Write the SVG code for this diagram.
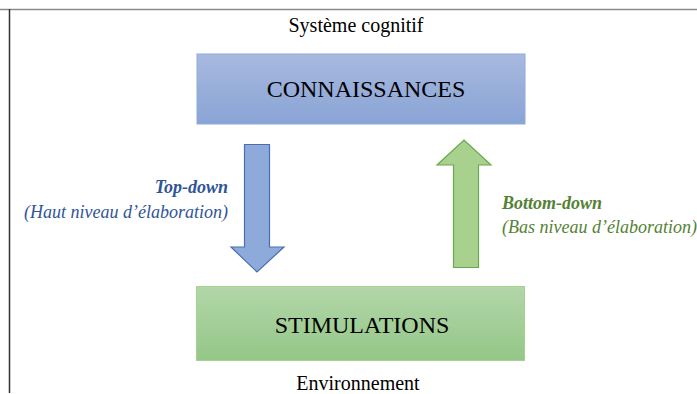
<svg xmlns="http://www.w3.org/2000/svg" width="697" height="394" viewBox="0 0 697 394">
<style>
.lbl{font-family:"Liberation Serif","Times New Roman",serif;fill:#000}
.big{font-size:24px}
.cap{font-size:20px}
.it{font-family:"Liberation Serif","Times New Roman",serif;font-style:italic;font-size:18px}
.b{font-weight:bold}
.blue{fill:#2f5597}
.green{fill:#548235}
</style>
<defs>
<linearGradient id="gBlue" x1="0" y1="0" x2="0" y2="1">
<stop offset="0" stop-color="#a8b9df"/>
<stop offset="1" stop-color="#89a4d5"/>
</linearGradient>
<linearGradient id="gGreen" x1="0" y1="0" x2="0" y2="1">
<stop offset="0" stop-color="#b2d6a9"/>
<stop offset="1" stop-color="#94c787"/>
</linearGradient>
</defs>
<rect width="697" height="394" fill="#fff"/>
<g id="frame">
<line x1="0" y1="9.5" x2="697" y2="9.5" stroke="#8a8a8a" stroke-width="1.5"/>
<line x1="9.5" y1="9" x2="9.5" y2="393" stroke="#333" stroke-width="1.5"/>
</g>
<text class="lbl cap" x="356" y="32" text-anchor="middle">Système cognitif</text>
<g id="connaissances">
<rect x="197" y="54" width="328" height="70" fill="url(#gBlue)" stroke="#8faadc" stroke-width="1"/>
<text class="lbl big" x="366" y="97" text-anchor="middle">CONNAISSANCES</text>
</g>
<g id="stimulations">
<rect x="196.5" y="286.5" width="328" height="74" fill="url(#gGreen)" stroke="#a9d18e" stroke-width="1"/>
<text class="lbl big" x="362" y="333" text-anchor="middle">STIMULATIONS</text>
</g>
<text class="lbl cap" x="358" y="390" text-anchor="middle">Environnement</text>
<g id="connectors">
<path d="M244.5 144.5 H269.5 V247 H284 L257 272 L231 247 H244.5 Z" fill="#8eaadb" stroke="#4a6fae" stroke-width="1.2"/>
<path d="M453.5 267.5 V165 H437 L464 140 L491 165 H478.5 V267.5 Z" fill="#a9d18e" stroke="#6aa84f" stroke-width="1.2"/>
</g>
<g id="labels">
<text class="it b blue" x="228" y="193" text-anchor="end">Top-down</text>
<text class="it blue" x="228" y="218" text-anchor="end">(Haut niveau d’élaboration)</text>
<text class="it b green" x="502" y="209">Bottom-down</text>
<text class="it green" x="502" y="233">(Bas niveau d’élaboration)</text>
</g>
</svg>
